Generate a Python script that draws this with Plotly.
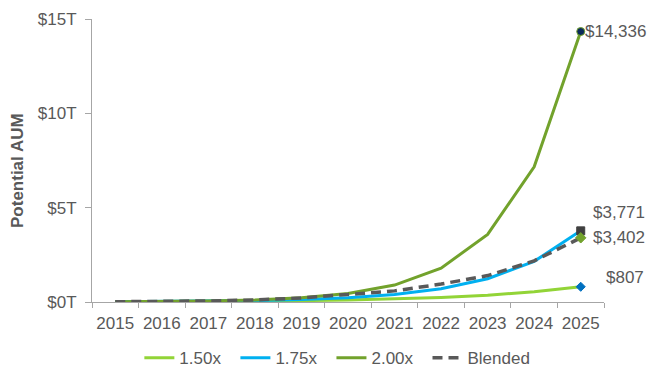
import plotly.graph_objects as go

# Potential AUM by scenario, in $ billions
years = ["2015", "2016", "2017", "2018", "2019", "2020", "2021", "2022", "2023", "2024", "2025"]
aum_150x = [14, 21, 31.5, 47, 71, 106, 159, 239, 359, 538, 807]
aum_175x = [14, 24.5, 43, 75, 131, 230, 402, 704, 1232, 2155, 3771]
aum_200x = [14, 28, 56, 112, 224, 448, 896, 1792, 3584, 7168, 14336]
aum_blended = [14, 28, 56, 110, 215, 400, 590, 950, 1400, 2180, 3402]

y_tick_vals = [0, 5000, 10000, 15000]
y_tick_text = ["$0T", "$5T", "$10T", "$15T"]

FONT = "Liberation Sans, Arial, sans-serif"
TEXT_GRAY = "#595959"
AXIS_GRAY = "#A6A6A6"
PAD = "\u00a0\u00a0"  # extra spacing between legend entries

series = [
    ("1.50x", aum_150x, "#92D437", "solid", "diamond", "#0070C0", 7),
    ("1.75x", aum_175x, "#00B0F0", "solid", "square", "#404040", 8),
    ("2.00x", aum_200x, "#72A22C", "solid", "circle", "#0B2A5B", 8),
    ("Blended", aum_blended, "#595959", "dash", "diamond", "#72A22C", 8),
]

fig = go.Figure()
for name, vals, color, dash, msym, mcol, msize in series:
    fig.add_trace(go.Scatter(
        x=years, y=vals, mode="lines", name=name + PAD,
        line=dict(color=color, width=3 if dash == "solid" else 3.5,
                  dash="10px,6px" if dash == "dash" else "solid"),
    ))
# end-point markers
for name, vals, color, dash, msym, mcol, msize in series:
    fig.add_trace(go.Scatter(
        x=[years[-1]], y=[vals[-1]], mode="markers", showlegend=False,
        marker=dict(symbol=msym, color=mcol, size=msize,
                    line=dict(width=1, color=color if name == "2.00x" else mcol)),
        hoverinfo="skip",
    ))

# end-value labels: (value, xshift, yshift)
last = len(years) - 1
labels = [
    (aum_200x[-1], 2, 0),
    (aum_175x[-1], 10, 18),
    (aum_blended[-1], 10, 0),
    (aum_150x[-1], 23, 9),
]
for val, xs, ys in labels:
    fig.add_annotation(
        x=last, y=val, text=f"${val:,.0f}", showarrow=False,
        xanchor="left", yanchor="middle", xshift=xs, yshift=ys,
        font=dict(family=FONT, size=17, color=TEXT_GRAY),
    )

# y-axis title
fig.add_annotation(
    xref="paper", yref="paper", x=-0.1445, y=0.463,
    text="<b>Potential AUM</b>", textangle=-90, showarrow=False,
    xanchor="center", yanchor="middle",
    font=dict(family=FONT, size=17, color=TEXT_GRAY),
)

fig.update_layout(
    width=650, height=381,
    margin=dict(l=92, r=46, t=19, b=79, autoexpand=False),
    paper_bgcolor="white", plot_bgcolor="white",
    font=dict(family=FONT, size=17, color=TEXT_GRAY),
    showlegend=True,
    legend=dict(orientation="h", x=0.488, xanchor="center",
                yref="container", y=0.06, yanchor="middle",
                font=dict(family=FONT, size=17, color=TEXT_GRAY),
                itemwidth=30),
)
fig.update_xaxes(
    type="category", range=[-0.5, 10.5],
    showline=True, linecolor=AXIS_GRAY, linewidth=1,
    ticks="outside", tickson="boundaries", ticklen=5, tickcolor=AXIS_GRAY,
    tickangle=0, ticklabelstandoff=6, showgrid=False,
    tickfont=dict(size=17, color=TEXT_GRAY),
)
fig.update_yaxes(
    range=[0, 15000], tickvals=y_tick_vals, ticktext=y_tick_text,
    showline=True, linecolor=AXIS_GRAY, linewidth=1,
    ticks="outside", ticklen=6, tickcolor=AXIS_GRAY, ticklabelstandoff=5,
    showgrid=False, zeroline=False, tickfont=dict(size=17, color=TEXT_GRAY),
)

fig.write_html("out.html")
